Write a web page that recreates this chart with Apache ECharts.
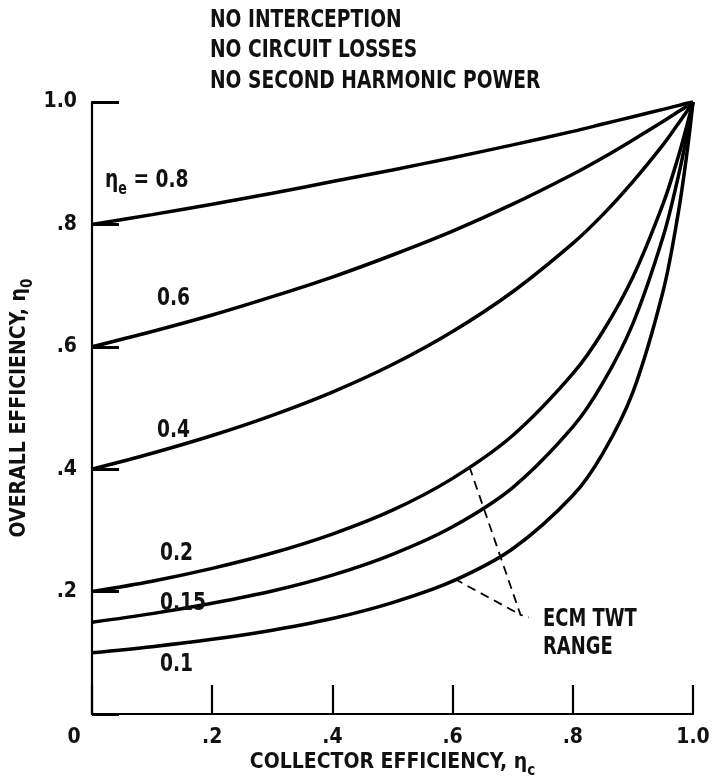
<!DOCTYPE html>
<html><head><meta charset="utf-8">
<script src="https://cdn.jsdelivr.net/npm/echarts@6/dist/echarts.min.js"></script>
<style>html,body{margin:0;padding:0;background:#fff}#c{width:716px;height:783px}</style>
</head><body><div id="c"></div><script>
// collector efficiency (x)
const collectorEff = [0, 0.1, 0.2, 0.3, 0.4, 0.5, 0.6, 0.7, 0.8, 0.85, 0.9, 0.95, 0.975, 0.99, 1.0];
// overall efficiency (y) for each electronic efficiency curve
const eta08  = [0.800,0.816,0.833,0.851,0.870,0.889,0.909,0.930,0.952,0.964,0.976,0.988,0.994,0.998,1.0];
const eta06  = [0.600,0.625,0.652,0.682,0.714,0.750,0.789,0.833,0.882,0.909,0.938,0.968,0.984,0.993,1.0];
const eta04  = [0.400,0.426,0.455,0.488,0.526,0.571,0.625,0.690,0.769,0.816,0.870,0.930,0.964,0.985,1.0];
const eta02  = [0.200,0.217,0.238,0.263,0.294,0.333,0.385,0.455,0.556,0.625,0.714,0.833,0.909,0.962,1.0];
const eta015 = [0.150,0.164,0.181,0.201,0.227,0.261,0.306,0.370,0.469,0.541,0.638,0.779,0.876,0.946,1.0];
const eta01  = [0.100,0.110,0.122,0.137,0.156,0.182,0.217,0.270,0.357,0.426,0.526,0.690,0.816,0.917,1.0];
const xTickLabels = ['0', '.2', '.4', '.6', '.8', '1.0'];
const yTickLabels = ['', '.2', '.4', '.6', '.8', '1.0'];
// ECM TWT range leader lines (data coords)
const leaderA = [[0.628,0.404],[0.713,0.162],[0.727,0.158]];
const leaderB = [[0.603,0.221],[0.713,0.162]];
const headerLines = ['NO INTERCEPTION', 'NO CIRCUIT LOSSES', 'NO SECOND HARMONIC POWER'];

const FF = "'DejaVu Sans Condensed','DejaVu Sans',sans-serif";
const chart = echarts.init(document.getElementById('c'), null, {renderer: 'canvas'});
const pair = ys => collectorEff.map((x, i) => [x, ys[i]]);
const curves = [eta08, eta06, eta04, eta02, eta015, eta01];

function curveSeries(ys) {
  return {type: 'line', data: pair(ys), showSymbol: false, symbol: 'none', smooth: 0.35,
    lineStyle: {color: '#000', width: 3.5}, silent: true, z: 3};
}
function leaderSeries(pts) {
  return {type: 'line', data: pts, showSymbol: false, symbol: 'none',
    lineStyle: {color: '#000', width: 1.8, type: [9, 6]}, silent: true, z: 2};
}
function txt(text, x, y, size, rich) {
  const st = {text: text, x: 0, y: 0, font: 'bold ' + size + 'px ' + FF, fill: '#111', verticalAlign: 'middle', align: 'left'};
  if (rich) st.rich = rich;
  return {type: 'text', x: x, y: y, scaleX: 0.83, style: st, z: 10};
}
const richSub = {
  n: {fontSize: 25, fontFamily: FF, fontWeight: 'bold', color: '#111', lineHeight: 36},
  s: {fontSize: 17, fontFamily: FF, fontWeight: 'bold', color: '#111', lineHeight: 17, verticalAlign: 'bottom'}
};

const graphics = [];
headerLines.forEach((t, i) => graphics.push(txt(t, 210, 20 + i * 30.5, 25)));
graphics.push(txt('{n|η}{s|e}{n| = 0.8}', 105, 180, 25, richSub));
graphics.push(txt('0.6', 157, 298, 25));
graphics.push(txt('0.4', 157, 430, 25));
graphics.push(txt('0.2', 160, 553, 25));
graphics.push(txt('0.15', 160, 603, 25));
graphics.push(txt('0.1', 160, 664, 25));
graphics.push(txt('ECM TWT', 543, 620, 24));
graphics.push(txt('RANGE', 543, 648, 24));

const nameRich = {
  n: {fontSize: 21, fontFamily: FF, fontWeight: 'bold', color: '#111', lineHeight: 32},
  s: {fontSize: 15, fontFamily: FF, fontWeight: 'bold', color: '#111', lineHeight: 15, verticalAlign: 'bottom'}
};

chart.setOption({
  backgroundColor: '#fff',
  animation: false,
  grid: {left: 92, right: 23, top: 102, bottom: 69, containLabel: false, outerBoundsMode: 'none'},
  xAxis: {
    type: 'value', min: 0, max: 1, interval: 0.2,
    name: '{n|COLLECTOR EFFICIENCY, η}{s|c}', nameLocation: 'middle', nameGap: 33, nameMoveOverlap: false,
    nameTextStyle: {rich: nameRich},
    axisLine: {show: true, lineStyle: {color: '#000', width: 2.2}},
    axisTick: {show: true, inside: true, length: 29, lineStyle: {color: '#000', width: 2.2}},
    splitLine: {show: false},
    axisLabel: {
      margin: 13, fontSize: 21, fontFamily: FF, fontWeight: 'bold', color: '#111',
      formatter: v => { const i = Math.round(v / 0.2); return i === 0 ? '{z|' + xTickLabels[0] + '}' : xTickLabels[i]; },
      rich: {z: {fontSize: 21, fontFamily: FF, fontWeight: 'bold', color: '#111', padding: [0, 36, 0, 0]}}
    }
  },
  yAxis: {
    type: 'value', min: 0, max: 1, interval: 0.2,
    name: '{n|OVERALL EFFICIENCY, η}{s|0}', nameLocation: 'middle', nameGap: 56, nameRotate: 90, nameMoveOverlap: false,
    nameTextStyle: {rich: nameRich},
    axisLine: {show: true, lineStyle: {color: '#000', width: 2.2}},
    axisTick: {show: true, inside: true, length: 27, lineStyle: {color: '#000', width: 3}},
    splitLine: {show: false},
    axisLabel: {
      margin: 15, fontSize: 21, fontFamily: FF, fontWeight: 'bold', color: '#111',
      formatter: v => yTickLabels[Math.round(v / 0.2)]
    }
  },
  series: curves.map(curveSeries).concat([leaderSeries(leaderA), leaderSeries(leaderB)]),
  graphic: graphics
});
</script></body></html>
